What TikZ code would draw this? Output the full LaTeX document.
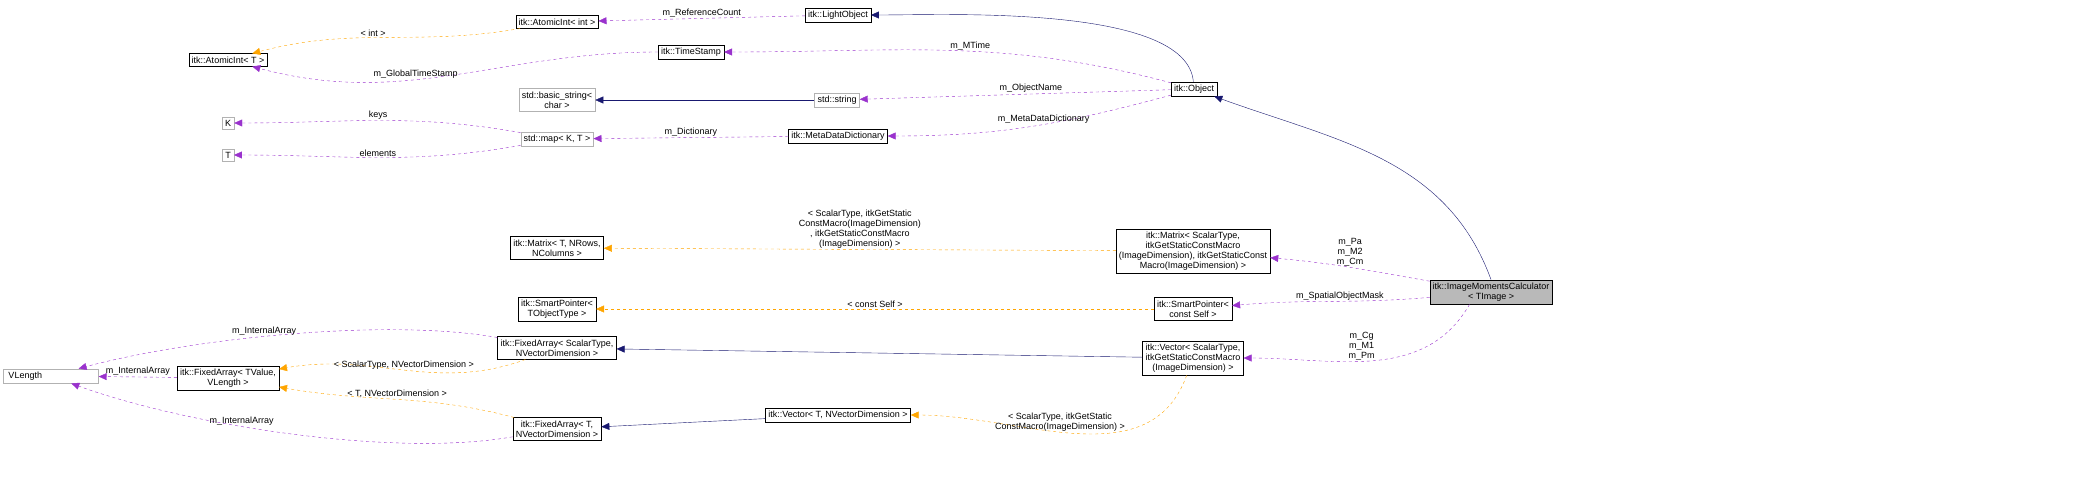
\documentclass[tikz,border=0pt]{standalone}
\usepackage{fontspec}
\setmainfont{Liberation Sans}
\usetikzlibrary{arrows.meta}
\definecolor{memC}{HTML}{9A32CD}
\definecolor{tmplC}{HTML}{FFA500}
\definecolor{inhC}{HTML}{191970}
\tikzset{
  cls/.style={draw=black, fill=white, inner sep=3pt, align=center, font=\fontsize{9}{10}\selectfont},
  ext/.style={cls, draw=gray!60},
  cur/.style={cls, fill=gray!55},
  mem/.style={memC, dashed, -{Triangle[length=8pt,width=7pt]}},
  tmpl/.style={tmplC, dashed, -{Triangle[length=8pt,width=7pt]}},
  inh/.style={inhC, -{Triangle[length=8pt,width=7pt]}},
  lbl/.style={font=\fontsize{9}{10}\selectfont, align=center, text=black, inner sep=1pt}
}
\begin{document}
\begin{tikzpicture}[x=1pt,y=-1pt]
	\useasboundingbox (0,0) rectangle (2096,495);
	\node[cls] (atomT) at (228,60) {itk::AtomicInt< T >};
	\node[cls] (atomI) at (557,22) {itk::AtomicInt< int >};
	\node[cls] (light) at (838,15) {itk::LightObject};
	\node[cls] (stamp) at (691,52) {itk::TimeStamp};
	\node[cls] (obj) at (1194,89) {itk::Object};
	\node[ext] (bstr) at (557,100) {std::basic\_string<\\char >};
	\node[ext] (str) at (837,100) {std::string};
	\node[cls] (mdd) at (838,136) {itk::MetaDataDictionary};
	\node[ext] (K) at (228,123) {K};
	\node[ext] (T) at (228,155) {T};
	\node[ext] (map) at (557,139) {std::map< K, T >};
	\node[cls] (matT) at (557,248) {itk::Matrix< T, NRows,\\NColumns >};
	\node[cls] (matS) at (1193,251) {itk::Matrix< ScalarType,\\ itkGetStaticConstMacro\\(ImageDimension), itkGetStaticConst\\Macro(ImageDimension) >};
	\node[cur] (imc) at (1491,292) {itk::ImageMomentsCalculator\\< TImage >};
	\node[cls] (spT) at (557,309) {itk::SmartPointer<\\TObjectType >};
	\node[cls] (spS) at (1193,309) {itk::SmartPointer<\\const Self >};
	\node[cls] (faS) at (557,348) {itk::FixedArray< ScalarType,\\NVectorDimension >};
	\node[cls] (vecS) at (1193,358) {itk::Vector< ScalarType,\\itkGetStaticConstMacro\\(ImageDimension) >};
	\node[ext, minimum width=95pt, text width=85pt, align=left] (vlen) at (51,376) {VLength};
	\node[cls] (faV) at (228,378) {itk::FixedArray< TValue,\\VLength >};
	\node[cls] (faT) at (557,429) {itk::FixedArray< T,\\NVectorDimension >};
	\node[cls] (vecT) at (838,415) {itk::Vector< T, NVectorDimension >};

	% top part
	\draw[tmpl] (atomI) to[out=190,in=15] node[lbl, above, pos=0.55] {< int >} (atomT);
	\draw[mem] (light) -- node[lbl, above] {m\_ReferenceCount} (atomI);
	\draw[inh] (obj) to[out=95,in=0,looseness=0.6] (light);
	\draw[mem] (stamp) to[out=180,in=345] node[lbl, above, pos=0.6] {m\_GlobalTimeStamp} (atomT);
	\draw[mem] (obj) to[out=165,in=0] node[lbl, above, pos=0.45] {m\_MTime} (stamp);
	\draw[mem] (obj) -- node[lbl, above, pos=0.45] {m\_ObjectName} (str);
	\draw[inh] (str) -- (bstr);
	\draw[mem] (obj) to[out=195,in=0] node[lbl, above, pos=0.45] {m\_MetaDataDictionary} (mdd);
	\draw[mem] (mdd) -- node[lbl, above] {m\_Dictionary} (map);
	\draw[mem] (map) to[out=170,in=0] node[lbl, above] {keys} (K);
	\draw[mem] (map) to[out=190,in=0] node[lbl, above] {elements} (T);
	% calculator
	\draw[inh] (imc.north) to[out=110,in=340] (obj);
	\draw[mem] (imc) to[out=170,in=355] node[lbl, above, pos=0.5] {m\_Pa\\m\_M2\\m\_Cm} (matS);
	\draw[tmpl] (matS) -- node[lbl, above] {< ScalarType, itkGetStatic\\ConstMacro(ImageDimension)\\, itkGetStaticConstMacro\\(ImageDimension) >} (matT);
	\draw[mem] (imc) to[out=185,in=5] node[lbl, above, pos=0.45] {m\_SpatialObjectMask} (spS);
	\draw[tmpl] (spS) -- node[lbl, above] {< const Self >} (spT);
	\draw[mem] (imc.south west) ++(40,0) to[out=240,in=0] node[lbl, above, pos=0.55] {m\_Cg\\m\_M1\\m\_Pm} (vecS.east);
	% arrays
	\draw[inh] (vecS) -- (faS);
	\draw[mem] (faS) to[out=170,in=15,looseness=0.7] node[lbl, above, pos=0.55] {m\_InternalArray} (vlen);
	\draw[tmpl] (faS) to[out=200,in=10] node[lbl, above, pos=0.5] {< ScalarType, NVectorDimension >} (faV);
	\draw[mem] (faV) -- node[lbl, above] {m\_InternalArray} (vlen);
	\draw[mem] (faT) to[out=190,in=340,looseness=0.7] node[lbl, above, pos=0.6] {m\_InternalArray} (vlen);
	\draw[tmpl] (faT) to[out=165,in=350] node[lbl, above, pos=0.5] {< T, NVectorDimension >} (faV);
	\draw[inh] (vecT) -- (faT);
	\draw[tmpl] (vecS) to[out=250,in=0] node[lbl, above, pos=0.55] {< ScalarType, itkGetStatic\\ConstMacro(ImageDimension) >} (vecT);
\end{tikzpicture}
\end{document}
